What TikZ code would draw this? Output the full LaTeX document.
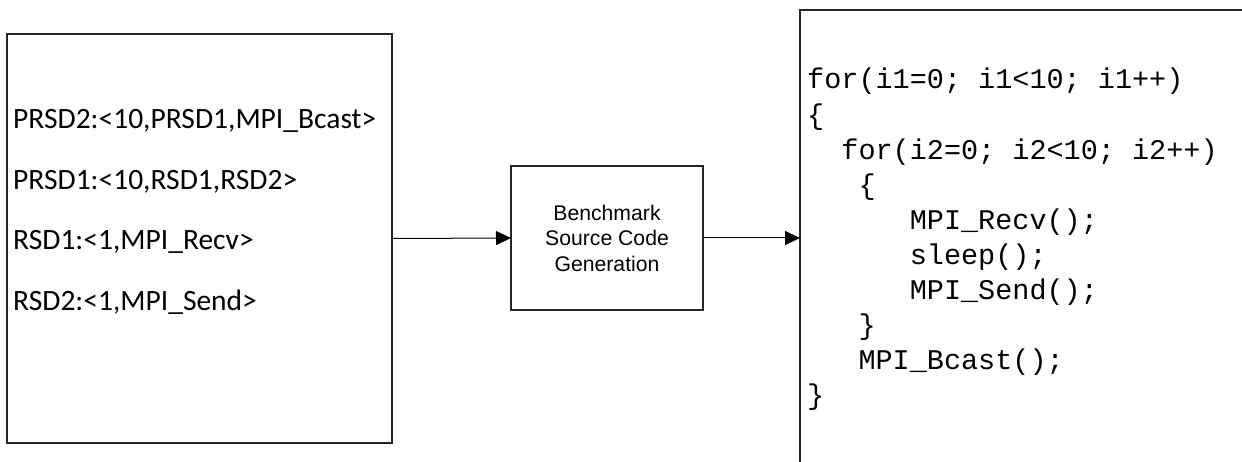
\documentclass[tikz,border=0pt]{standalone}
\usepackage{fontspec}
\newfontfamily\rsdfont{Carlito}
\newfontfamily\boxfont{Liberation Sans}
\newfontfamily\codefont{Liberation Mono}
\usetikzlibrary{arrows.meta}

\tikzset{
  frame/.style={draw=black!85, line width=1.2pt, inner sep=0pt, outer sep=0pt},
  rsdline/.style={anchor=base west, inner sep=0pt, font=\rsdfont\fontsize{29.5}{34}\selectfont},
  codeline/.style={anchor=base west, inner sep=0pt, font=\codefont\fontsize{28.5}{34}\selectfont},
  flow/.style={line width=1pt, -{Triangle[length=15pt,width=14pt]}}
}

\begin{document}
\begin{tikzpicture}[x=1pt, y=-1pt]
  \useasboundingbox (0,0) rectangle (1242,462);
  \clip (0,0) rectangle (1242,462);

  % input description box
  \node[frame, minimum width=385pt, minimum height=409pt] (rsd) at (199.5,238.5) {};
  \node[rsdline] (l1) at (13,129) {PRSD2:<10,PRSD1,MPI\_Bcast>};
  \node[rsdline] (l2) at (13,190) {PRSD1:<10,RSD1,RSD2>};
  \node[rsdline] (l3) at (13,250) {RSD1:<1,MPI\_Recv>};
  \node[rsdline] (l4) at (13,310) {RSD2:<1,MPI\_Send>};

  % generator
  \node[frame, minimum width=192pt, minimum height=144pt, align=center,
        font=\boxfont\fontsize{21.2}{25.5}\selectfont] (gen) at (607,238)
        {Benchmark\\Source Code\\Generation};

  % generated code box (runs off the right and bottom)
  \node[frame, anchor=north west, minimum width=600pt, minimum height=600pt] (codebox) at (800,10) {};
  \node[codeline] (c1)  at (807,89)    {for(i1=0; i1<10; i1++)};
  \node[codeline] (c2)  at (807,124.1) {\{};
  \node[codeline] (c3)  at (841.2,159.2) {for(i2=0; i2<10; i2++)};
  \node[codeline] (c4)  at (858.3,194.3) {\{};
  \node[codeline] (c5)  at (909.6,229.4) {MPI\_Recv();};
  \node[codeline] (c6)  at (909.6,264.5) {sleep();};
  \node[codeline] (c7)  at (909.6,299.6) {MPI\_Send();};
  \node[codeline] (c8)  at (858.3,334.7) {\}};
  \node[codeline] (c9)  at (858.3,369.8) {MPI\_Bcast();};
  \node[codeline] (c10) at (807,404.9) {\}};

  % connectors
  \draw[flow] (rsd.east) -- (gen.west);
  \draw[flow] (gen.east) -- (gen.east -| codebox.west);
\end{tikzpicture}
\end{document}
